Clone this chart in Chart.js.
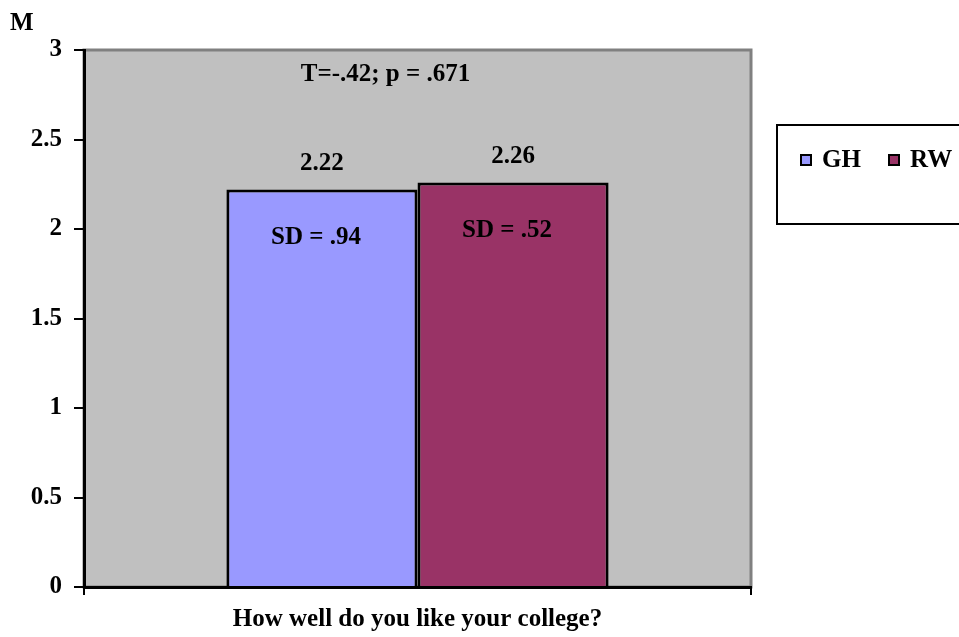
<!DOCTYPE html>
<html>
<head>
<meta charset="utf-8">
<script src="https://cdn.jsdelivr.net/npm/chart.js@4"></script>
<style>
  html, body { margin: 0; padding: 0; background: #fff; }
  canvas { display: block; }
</style>
</head>
<body>
<canvas id="chart" width="959" height="637"></canvas>
<script>
// data
const categories = ["How well do you like your college?"];
const seriesNames = ["GH", "RW"];
const ghValues = [2.22];
const rwValues = [2.26];
const sdLabels = ["SD = .94", "SD = .52"];
const yTicks = [0, 0.5, 1, 1.5, 2, 2.5, 3];
const testLabel = "T=-.42; p = .671";

const FONT = "'Liberation Serif', 'Times New Roman', serif";
const boldFont = { family: FONT, size: 25, weight: "bold" };

// grey plot area with darker frame
const plotBackground = {
  id: "plotBackground",
  beforeDraw(chart) {
    const { ctx, chartArea: a } = chart;
    ctx.save();
    ctx.fillStyle = "#C0C0C0";
    ctx.fillRect(a.left, a.top, a.right - a.left, a.bottom - a.top);
    ctx.strokeStyle = "#808080";
    ctx.lineWidth = 3;
    ctx.strokeRect(a.left, a.top, a.right - a.left, a.bottom - a.top);
    ctx.restore();
  }
};

// value labels, SD labels, test statistic, "M", legend box
const extras = {
  id: "extras",
  afterDraw(chart) {
    const { ctx, chartArea: a } = chart;
    ctx.save();
    ctx.font = "bold 25px " + FONT;
    ctx.fillStyle = "#000";
    ctx.textAlign = "center";
    ctx.textBaseline = "middle";
    chart.data.datasets.forEach((ds, i) => {
      const bar = chart.getDatasetMeta(i).data[0];
      ctx.fillText(ds.data[0].toFixed(2), bar.x, bar.y - 26);
      ctx.fillText(sdLabels[i], bar.x - 6, bar.y + 48);
    });
    ctx.fillText(testLabel, (a.left + a.right) / 2 - 32, a.top + 25);

    ctx.textAlign = "left";
    ctx.fillText("M", 10, 24);

    // legend
    ctx.strokeStyle = "#000";
    ctx.lineWidth = 2;
    ctx.strokeRect(777, 125, 200, 99);
    const items = [
      { x: 801, text: seriesNames[0], color: chart.data.datasets[0].backgroundColor },
      { x: 889, text: seriesNames[1], color: chart.data.datasets[1].backgroundColor }
    ];
    items.forEach(it => {
      ctx.fillStyle = it.color;
      ctx.fillRect(it.x, 155, 10, 10);
      ctx.lineWidth = 2;
      ctx.strokeRect(it.x, 155, 10, 10);
      ctx.fillStyle = "#000";
      ctx.fillText(it.text, it.x + 21, 161);
    });
    ctx.restore();
  }
};

new Chart(document.getElementById("chart"), {
  type: "bar",
  data: {
    labels: categories,
    datasets: [
      { label: seriesNames[0], data: ghValues, backgroundColor: "#9999FF", borderColor: "#000", borderWidth: 3 },
      { label: seriesNames[1], data: rwValues, backgroundColor: "#993366", borderColor: "#000", borderWidth: 3 }
    ]
  },
  options: {
    responsive: false,
    animation: false,
    devicePixelRatio: 1,
    layout: { padding: { top: 50, right: 208, left: 0, bottom: 0 } },
    datasets: { bar: { barPercentage: 1, categoryPercentage: 0.573 } },
    plugins: { legend: { display: false }, tooltip: { enabled: false } },
    scales: {
      x: {
        offset: true,
        grid: { offset: true, drawOnChartArea: false, drawTicks: true, tickLength: 8, color: "#000", lineWidth: 2 },
        border: { color: "#000", width: 3 },
        ticks: { color: "#000", font: boldFont, padding: 10 },
        afterFit(scale) { scale.height = 50; }
      },
      y: {
        min: 0,
        max: 3,
        afterBuildTicks(scale) { scale.ticks = yTicks.map(v => ({ value: v })); },
        grid: { drawOnChartArea: false, drawTicks: true, tickLength: 10, color: "#000", lineWidth: 2 },
        border: { color: "#000", width: 3 },
        ticks: { color: "#000", font: boldFont, padding: 12, callback: v => String(v) },
        afterFit(scale) { scale.width = 84; }
      }
    }
  },
  plugins: [plotBackground, extras]
});
</script>
</body>
</html>
